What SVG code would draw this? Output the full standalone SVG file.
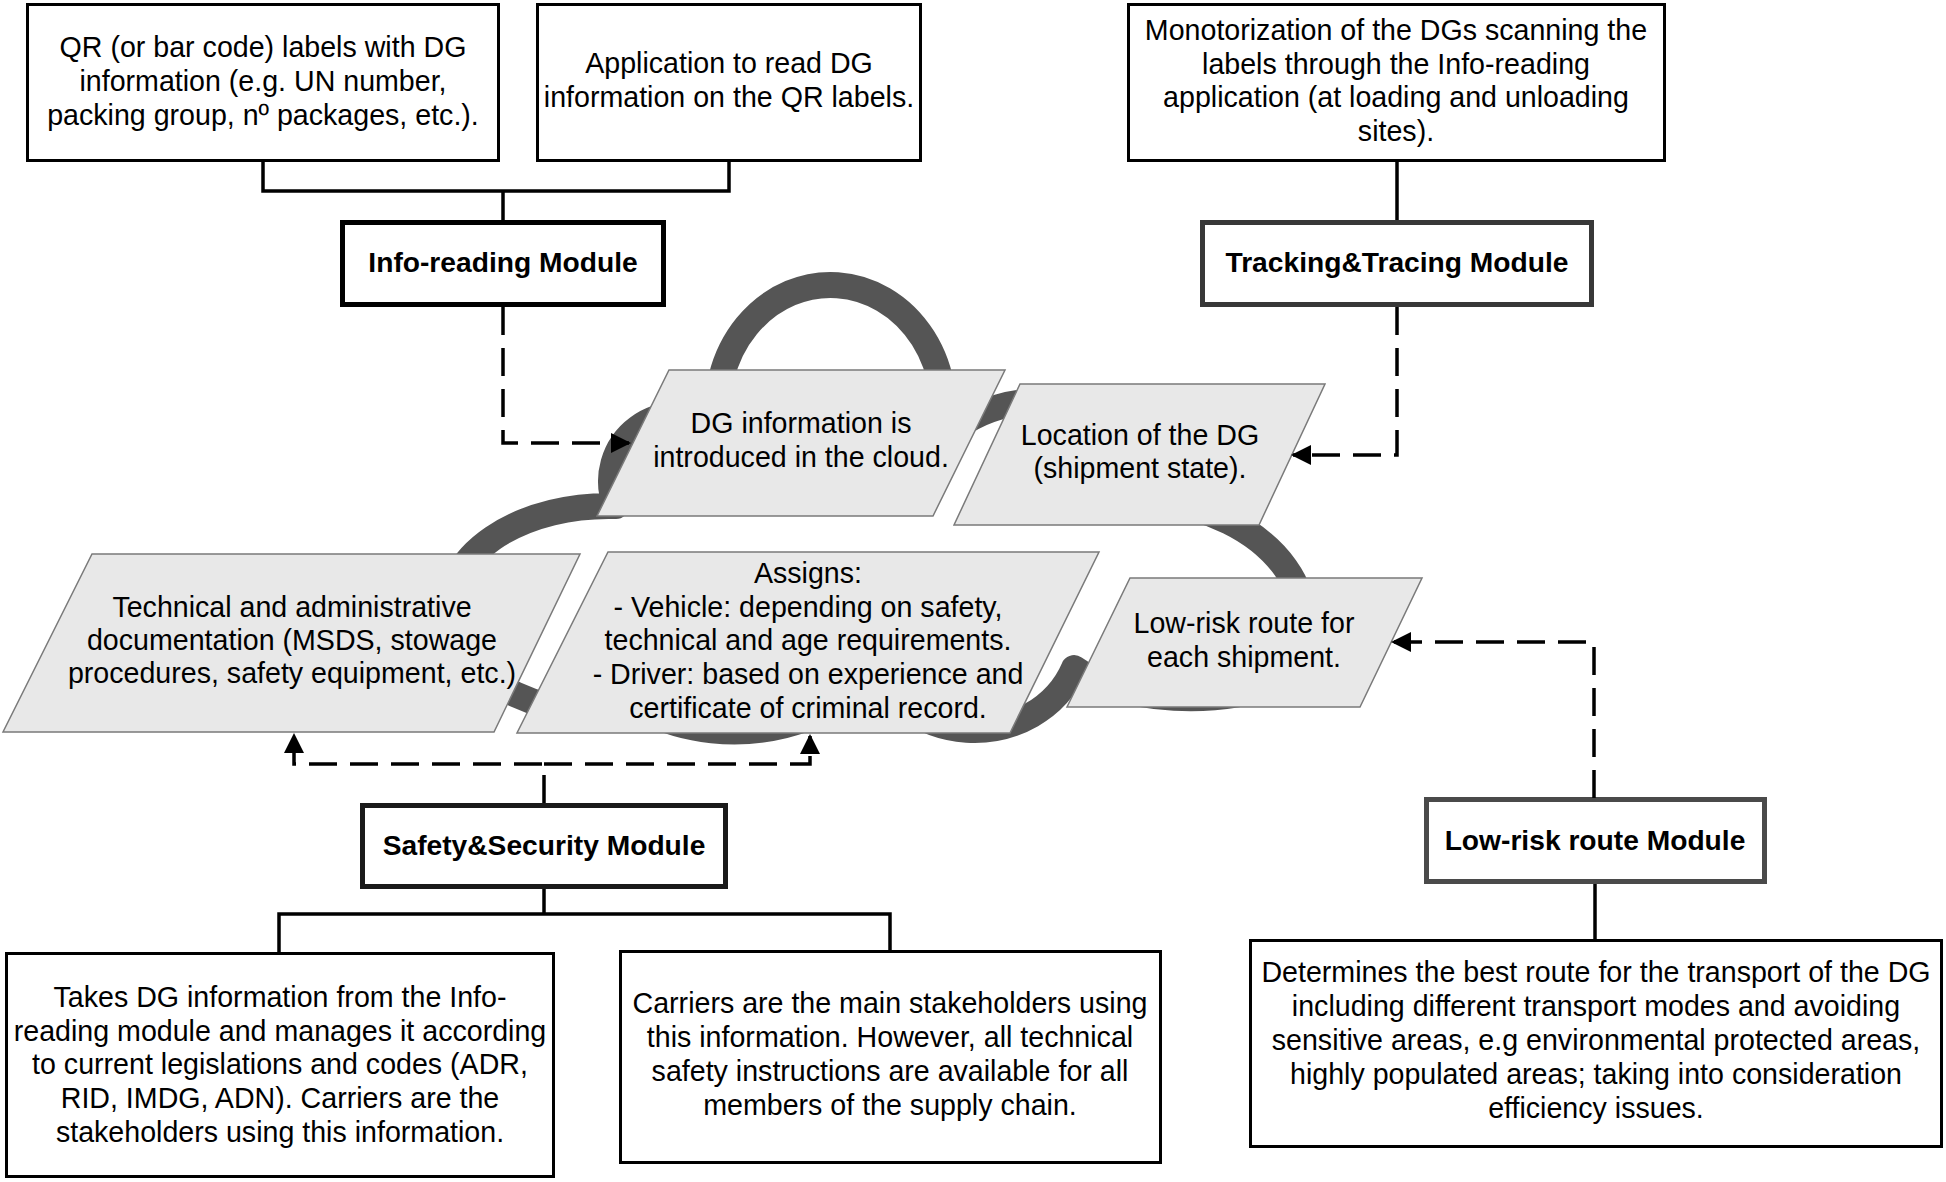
<svg xmlns="http://www.w3.org/2000/svg" width="1946" height="1182" viewBox="0 0 1946 1182">
<style>
.box{fill:#fff;stroke:#000;stroke-width:3}
.mod{fill:#fff;stroke-width:5}
.para{fill:#e8e8e8;stroke:#7a7a7a;stroke-width:1.5}
.t{font-family:"Liberation Sans",Arial,sans-serif;font-size:28.6px;text-anchor:middle;fill:#000}
.b{font-weight:bold;font-size:28.2px}
.ln{fill:none;stroke:#000;stroke-width:3.5}
.dash{fill:none;stroke:#000;stroke-width:3.5;stroke-dasharray:28 13}
.cloud{fill:#fff;stroke:#555;stroke-width:26;stroke-linejoin:round}
</style>
<defs>
<marker id="arr" viewBox="0 0 10 10" refX="9" refY="5" markerUnits="userSpaceOnUse" markerWidth="22" markerHeight="20" orient="auto">
<path d="M0,0 L10,5 L0,10 z" fill="#000"/>
</marker>
</defs>
<rect width="1946" height="1182" fill="#fff"/>

<g id="cloud">
<path class="cloud" d="M616 506 A66 66 0 0 1 719 430 A113 125 0 1 1 939 445 A120 100 0 0 1 1158 501 A175 125 0 0 1 1286 680 A140 68 0 0 1 1074 668 A107 97 0 0 1 870 655 A137 87 0 0 1 646 711 A160 104 0 1 1 616 506 Z"/>
</g>

<g id="p-dg-info">
<polygon class="para" points="669,370 1005,370 933,516 597,516"/>
<text class="t" x="801" y="433">DG information is</text>
<text class="t" x="801" y="467">introduced in the cloud.</text>
</g>
<g id="p-location">
<polygon class="para" points="1020,384 1325,384 1259,525 954,525"/>
<text class="t" x="1140" y="445">Location of the DG</text>
<text class="t" x="1140" y="478">(shipment state).</text>
</g>
<g id="p-technical">
<polygon class="para" points="92,554 580,554 494,732 3,732"/>
<text class="t" x="292" y="617">Technical and administrative</text>
<text class="t" x="292" y="650">documentation (MSDS, stowage</text>
<text class="t" x="292" y="683">procedures, safety equipment, etc.)</text>
</g>
<g id="p-assigns">
<polygon class="para" points="608,552 1099,552 1010,733 517,733"/>
<text class="t" x="808" y="583">Assigns:</text>
<text class="t" x="808" y="617">- Vehicle: depending on safety,</text>
<text class="t" x="808" y="650">technical and age requirements.</text>
<text class="t" x="808" y="684">- Driver: based on experience and</text>
<text class="t" x="808" y="718">certificate of criminal record.</text>
</g>
<g id="p-lowrisk">
<polygon class="para" points="1130,578 1422,578 1360,707 1067,707"/>
<text class="t" x="1244" y="633">Low-risk route for</text>
<text class="t" x="1244" y="667">each shipment.</text>
</g>

<g id="box-qr">
<rect class="box" x="27.5" y="4.5" width="471" height="156"/>
<text class="t" x="263" y="57">QR (or bar code) labels with DG</text>
<text class="t" x="263" y="91">information (e.g. UN number,</text>
<text class="t" x="263" y="125">packing group, nº packages, etc.).</text>
</g>
<g id="box-app">
<rect class="box" x="537.5" y="4.5" width="383" height="156"/>
<text class="t" x="729" y="73">Application to read DG</text>
<text class="t" x="729" y="107">information on the QR labels.</text>
</g>
<g id="box-monitor">
<rect class="box" x="1128.5" y="4.5" width="536" height="156"/>
<text class="t" x="1396" y="40">Monotorization of the DGs scanning the</text>
<text class="t" x="1396" y="74">labels through the Info-reading</text>
<text class="t" x="1396" y="107">application (at loading and unloading</text>
<text class="t" x="1396" y="141">sites).</text>
</g>
<g id="mod-info">
<rect class="mod" x="342.5" y="222.5" width="321" height="82" stroke="#000"/>
<text class="t b" x="503" y="272">Info-reading Module</text>
</g>
<g id="mod-tracking">
<rect class="mod" x="1202.5" y="222.5" width="389" height="82" stroke="#383838"/>
<text class="t b" x="1397" y="272" fill="#333">Tracking&amp;Tracing Module</text>
</g>
<g id="mod-safety">
<rect class="mod" x="362.5" y="805.5" width="363" height="81" stroke="#1a1a1a"/>
<text class="t b" x="544" y="855" fill="#1a1a1a">Safety&amp;Security Module</text>
</g>
<g id="mod-lowrisk">
<rect class="mod" x="1426.5" y="799.5" width="338" height="82" stroke="#4a4a4a"/>
<text class="t b" x="1595" y="850" fill="#4d4d4d">Low-risk route Module</text>
</g>
<g id="box-takes">
<rect class="box" x="6.5" y="953.5" width="547" height="223"/>
<text class="t" x="280" y="1007">Takes DG information from the Info-</text>
<text class="t" x="280" y="1041">reading module and manages it according</text>
<text class="t" x="280" y="1074">to current legislations and codes (ADR,</text>
<text class="t" x="280" y="1108">RID, IMDG, ADN). Carriers are the</text>
<text class="t" x="280" y="1142">stakeholders using this information.</text>
</g>
<g id="box-carriers">
<rect class="box" x="620.5" y="951.5" width="540" height="211"/>
<text class="t" x="890" y="1013">Carriers are the main stakeholders using</text>
<text class="t" x="890" y="1047">this information. However, all technical</text>
<text class="t" x="890" y="1081">safety instructions are available for all</text>
<text class="t" x="890" y="1115">members of the supply chain.</text>
</g>
<g id="box-determines">
<rect class="box" x="1250.5" y="940.5" width="691" height="206"/>
<text class="t" x="1596" y="982">Determines the best route for the transport of the DG</text>
<text class="t" x="1596" y="1016">including different transport modes and avoiding</text>
<text class="t" x="1596" y="1050">sensitive areas, e.g environmental protected areas,</text>
<text class="t" x="1596" y="1084">highly populated areas; taking into consideration</text>
<text class="t" x="1596" y="1118">efficiency issues.</text>
</g>

<g id="connectors">
<path class="ln" d="M263 162 V191 H729 V162"/>
<path class="ln" d="M503 191 V220"/>
<path class="ln" d="M1397 162 V220"/>
<path class="ln" d="M544 889 V914"/>
<path class="ln" d="M279 953 V914 H890 V950"/>
<path class="ln" d="M1595 884 V939"/>
<path class="dash" d="M503 307 V443 H629" marker-end="url(#arr)"/>
<path class="dash" d="M1397 307 V455 H1293" marker-end="url(#arr)"/>
<path class="dash" d="M1594 798 V642 H1393" marker-end="url(#arr)"/>
<path class="dash" d="M544 803 V764 H294 V735" marker-end="url(#arr)"/>
<path class="dash" d="M544 764 H810 V736" marker-end="url(#arr)"/>
</g>
</svg>
